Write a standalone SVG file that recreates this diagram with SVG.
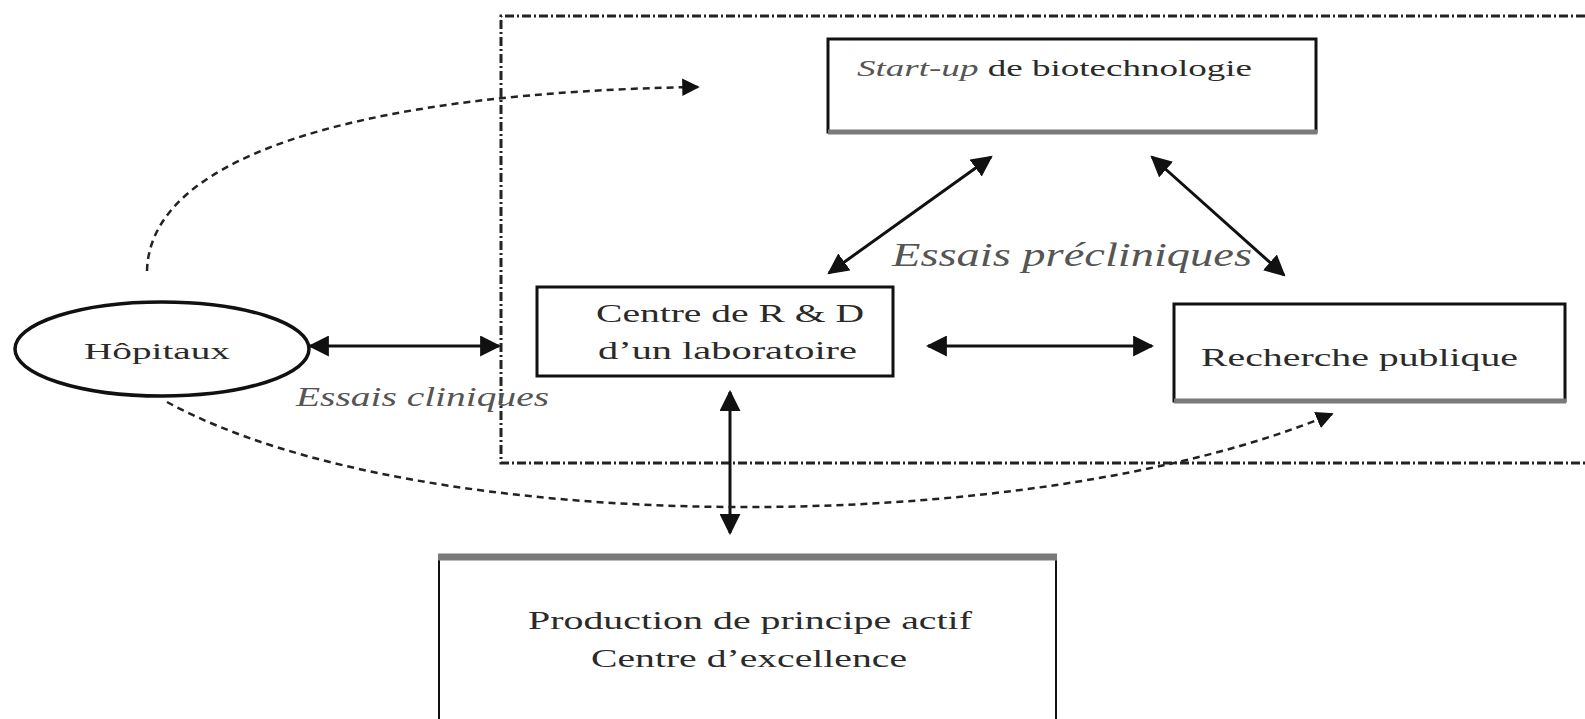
<svg xmlns="http://www.w3.org/2000/svg" width="1585" height="719" viewBox="0 0 1585 719">
  <style>
    .lbl { font-family: "Liberation Serif", "Times New Roman", serif; fill: #2a2a2a; }
    .it { font-style: italic; fill: #555; }
    .box { fill: #fff; stroke: #111; stroke-width: 3; }
    .shade { stroke: #7a7a7a; stroke-width: 5; }
    .solid { fill: none; stroke: #111; stroke-width: 3; }
    .dashed { fill: none; stroke: #222; stroke-width: 2.5; stroke-dasharray: 7 5; }
    .frame { fill: none; stroke: #222; stroke-width: 3; stroke-dasharray: 9 3 2 3; }
  </style>
  <defs>
    <marker id="ah" viewBox="0 0 10 10" refX="9" refY="5" markerWidth="7" markerHeight="7" markerUnits="strokeWidth" orient="auto-start-reverse">
      <path d="M0,0 L10,5 L0,10 Z" fill="#111"/>
    </marker>
  </defs>
  <rect width="1585" height="719" fill="#fff"/>

  <!-- dash-dot boundary around the laboratory cluster -->
  <g id="boundary">
    <path class="frame" d="M1585,16 L501,16 L501,463 L1585,463"/>
  </g>

  <g id="connectors">
    <line class="solid" x1="310" y1="346" x2="499" y2="346" marker-start="url(#ah)" marker-end="url(#ah)"/>
    <line class="solid" x1="928" y1="346" x2="1152" y2="346" marker-start="url(#ah)" marker-end="url(#ah)"/>
    <line class="solid" x1="829" y1="273" x2="991" y2="157" marker-start="url(#ah)" marker-end="url(#ah)"/>
    <line class="solid" x1="1152" y1="157" x2="1284" y2="275" marker-start="url(#ah)" marker-end="url(#ah)"/>
    <line class="solid" x1="730" y1="392" x2="730" y2="533" stroke-width="2.5" marker-start="url(#ah)" marker-end="url(#ah)"/>
    <path class="dashed" d="M147,271 C150,150 380,92 698,87" marker-end="url(#ah)"/>
    <path class="dashed" d="M167,402 C420,540 1030,540 1332,414" marker-end="url(#ah)"/>
  </g>

  <g id="hopitaux">
    <ellipse cx="162" cy="349" rx="147" ry="47" fill="#fff" stroke="#111" stroke-width="3.5"/>
    <text class="lbl" x="157" y="359" font-size="24" text-anchor="middle" textLength="146" lengthAdjust="spacingAndGlyphs">Hôpitaux</text>
  </g>

  <g id="startup">
    <rect class="box" x="828" y="39" width="488" height="93"/>
    <line class="shade" x1="828" y1="132" x2="1317" y2="132"/>
    <text class="lbl" x="857" y="76" font-size="24" textLength="395" lengthAdjust="spacingAndGlyphs"><tspan class="it">Start-up</tspan> de biotechnologie</text>
  </g>

  <g id="rd-centre">
    <rect class="box" x="537" y="287" width="356" height="89"/>
    <text class="lbl" x="596" y="322" font-size="25" textLength="268" lengthAdjust="spacingAndGlyphs">Centre de R &amp; D</text>
    <text class="lbl" x="598" y="359" font-size="25" textLength="259" lengthAdjust="spacingAndGlyphs">d’un laboratoire</text>
  </g>

  <g id="recherche">
    <rect class="box" x="1174" y="304" width="391" height="97"/>
    <line class="shade" x1="1174" y1="401" x2="1566" y2="401"/>
    <text class="lbl" x="1201" y="366" font-size="25" textLength="317" lengthAdjust="spacingAndGlyphs">Recherche publique</text>
  </g>

  <g id="production">
    <path d="M439,725 L439,557 L1056,557 L1056,725" fill="#fff" stroke="#111" stroke-width="2"/>
    <line x1="438" y1="557" x2="1057" y2="557" stroke="#7a7a7a" stroke-width="7"/>
    <text class="lbl" x="528" y="629" font-size="26" textLength="444" lengthAdjust="spacingAndGlyphs">Production de principe actif</text>
    <text class="lbl" x="591" y="667" font-size="26" textLength="316" lengthAdjust="spacingAndGlyphs">Centre d’excellence</text>
  </g>

  <g id="labels">
    <text class="lbl it" x="296" y="406" font-size="28" textLength="253" lengthAdjust="spacingAndGlyphs">Essais cliniques</text>
    <text class="lbl it" x="892" y="266" font-size="34" textLength="360" lengthAdjust="spacingAndGlyphs">Essais précliniques</text>
  </g>
</svg>
